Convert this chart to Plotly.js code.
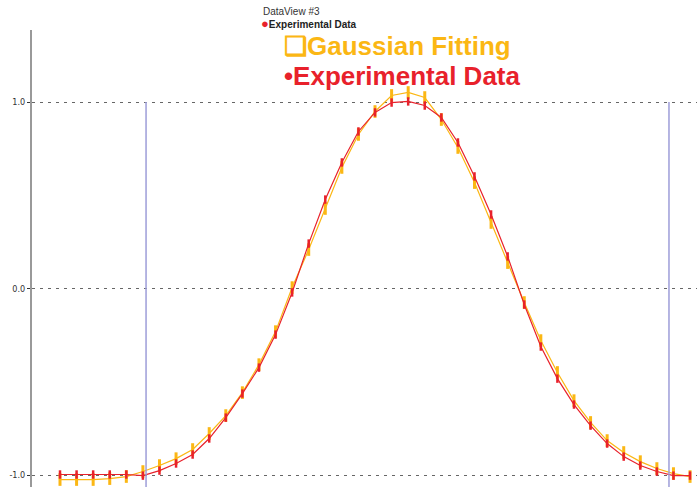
<!DOCTYPE html>
<html>
<head>
<meta charset="utf-8">
<script src="https://cdn.plot.ly/plotly-3.0.1.min.js"></script>
<style>html,body{margin:0;padding:0;background:#fff;}#chart{width:697px;height:487px;}</style>
</head>
<body>
<div id="chart"></div>
<script>
// sample index along the scan
const sampleIndex = [0,1,2,3,4,5,6,7,8,9,10,11,12,13,14,15,16,17,18,19,20,21,22,23,24,25,26,27,28,29,30,31,32,33,34,35,36,37,38];
// Experimental data (red)
const experimental = [-0.997,-0.997,-0.997,-0.997,-0.997,-1.003,-0.976,-0.938,-0.890,-0.804,-0.692,-0.563,-0.424,-0.247,-0.021,0.241,0.477,0.676,0.842,0.944,0.997,1.003,0.981,0.917,0.783,0.601,0.397,0.172,-0.086,-0.311,-0.483,-0.622,-0.735,-0.831,-0.901,-0.949,-0.981,-1.003,-1.003];
// Gaussian fitting (yellow)
const gaussianFit = [-1.024,-1.024,-1.024,-1.019,-1.008,-0.981,-0.949,-0.912,-0.863,-0.777,-0.681,-0.558,-0.408,-0.231,0.005,0.209,0.429,0.649,0.826,0.949,1.035,1.051,1.024,0.906,0.756,0.568,0.354,0.139,-0.075,-0.279,-0.450,-0.601,-0.718,-0.815,-0.879,-0.928,-0.965,-0.992,-1.008];
// cursor positions (vertical markers)
const cursors = [5.19, 36.73];
// y tick values / labels
const yTickVals = [-1, 0, 1];
const yTickText = ['-1.0', '0.0', '1.0'];

const red = '#e8212b';
const yellow = '#fbb714';

const traces = [
  {
    x: sampleIndex, y: gaussianFit, name: 'Gaussian Fitting', type: 'scatter', mode: 'lines+markers',
    line: {color: yellow, width: 1.2},
    marker: {symbol: 'line-ns-open', size: 9, line: {color: yellow, width: 3}},
    showlegend: false
  },
  {
    x: sampleIndex, y: experimental, name: 'Experimental Data', type: 'scatter', mode: 'lines+markers',
    line: {color: red, width: 1.2},
    marker: {symbol: 'line-ns-open', size: 6, line: {color: red, width: 2.5}},
    showlegend: false
  }
];

const shapes = cursors.map(c => ({
  type: 'line', xref: 'x', yref: 'y', x0: c, x1: c, y0: 1, y1: -1.1,
  line: {color: '#9d9dd9', width: 1.5}
}));

const layout = {
  width: 697, height: 487,
  margin: {l: 32, r: 0, t: 30, b: 0, pad: 0},
  paper_bgcolor: '#fff', plot_bgcolor: '#fff',
  xaxis: {range: [-1.689, 38.42], showgrid: false, zeroline: false, showticklabels: false, ticks: '', showline: false},
  yaxis: {
    range: [-1.064, 1.386], tickvals: yTickVals, ticktext: yTickText,
    showgrid: true, gridcolor: '#666', griddash: '3px,5px', gridwidth: 1,
    zeroline: false, showline: true, linecolor: '#999', linewidth: 2,
    ticks: 'outside', ticklen: 3, tickcolor: '#333',
    tickfont: {family: 'Liberation Sans Narrow, DejaVu Sans Condensed, Arial', size: 9, color: '#333'}
  },
  shapes: shapes,
  annotations: [
    {xref: 'paper', yref: 'paper', x: 0.346, y: 1.041, xanchor: 'left', yanchor: 'middle', showarrow: false, borderpad: 0,
     text: 'DataView #3', font: {family: 'Liberation Sans, Arial', size: 10, color: '#333'}},
    {xref: 'paper', yref: 'paper', x: 0.343, y: 1.014, xanchor: 'left', yanchor: 'middle', showarrow: false, borderpad: 0,
     text: '<span style="color:#e8212b;font-size:13px">●</span><b>Experimental Data</b>', font: {family: 'Liberation Sans, Arial', size: 10, color: '#222'}},
    {xref: 'paper', yref: 'paper', x: 0.378, y: 0.964, xanchor: 'left', yanchor: 'middle', showarrow: false, borderpad: 0,
     text: '<b>❑Gaussian Fitting</b>', font: {family: 'Liberation Sans, Arial', size: 26, color: yellow}},
    {xref: 'paper', yref: 'paper', x: 0.378, y: 0.899, xanchor: 'left', yanchor: 'middle', showarrow: false, borderpad: 0,
     text: '<b>•Experimental Data</b>', font: {family: 'Liberation Sans, Arial', size: 26, color: red}}
  ]
};

Plotly.newPlot('chart', traces, layout, {displayModeBar: false, staticPlot: true});
</script>
</body>
</html>
